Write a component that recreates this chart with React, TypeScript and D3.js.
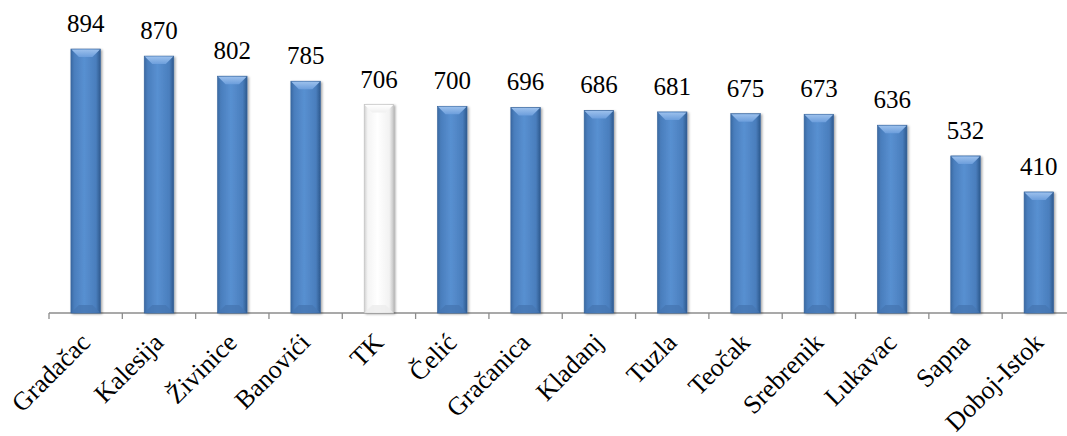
import React from "react";
import * as d3 from "d3";

const categories = ["Gradačac", "Kalesija", "Živinice", "Banovići", "TK", "Čelić", "Gračanica", "Kladanj", "Tuzla", "Teočak", "Srebrenik", "Lukavac", "Sapna", "Doboj-Istok"];
const values = [894, 870, 802, 785, 706, 700, 696, 686, 681, 675, 673, 636, 532, 410];
const highlighted = ["TK"];

const W = 1067;
const H = 436;

export default function App() {
  const x = d3.scaleBand<string>().domain(categories).range([49, 1075.5]).paddingInner(0).paddingOuter(0);
  const y = d3.scaleLinear().domain([0, 1000]).range([313, 17.7]);
  const bw = 29.5;
  const y0 = y(0);
  const ticks = categories.map((c) => x(c)!).concat([x(categories[categories.length - 1])! + x.bandwidth()]);

  return (
    <svg width={W} height={H} style={{ position: "absolute", left: 0, top: 0, background: "#fff" }}>
      <defs>
        <linearGradient id="gBlue" x1="0" x2="1" y1="0" y2="0">
          <stop offset="0" stopColor="#3a6aa3" />
          <stop offset="0.12" stopColor="#4a7ebd" />
          <stop offset="0.45" stopColor="#5890d1" />
          <stop offset="0.85" stopColor="#4a7ebd" />
          <stop offset="1" stopColor="#2e5a8e" />
        </linearGradient>
        <linearGradient id="gWhite" x1="0" x2="1" y1="0" y2="0">
          <stop offset="0" stopColor="#d0d0d0" />
          <stop offset="0.12" stopColor="#f4f4f4" />
          <stop offset="0.45" stopColor="#ffffff" />
          <stop offset="0.85" stopColor="#f2f2f2" />
          <stop offset="1" stopColor="#c4c4c4" />
        </linearGradient>
        <linearGradient id="gBevelBlue" x1="0" x2="0" y1="0" y2="1">
          <stop offset="0" stopColor="#9cc0ec" />
          <stop offset="1" stopColor="#6c9edc" />
        </linearGradient>
        <linearGradient id="gBevelWhite" x1="0" x2="0" y1="0" y2="1">
          <stop offset="0" stopColor="#ffffff" />
          <stop offset="1" stopColor="#f0f0f0" />
        </linearGradient>
        <filter id="shadow" x="-30%" y="-10%" width="160%" height="120%">
          <feDropShadow dx="1.5" dy="1" stdDeviation="1.3" floodColor="#000" floodOpacity="0.35" />
        </filter>
      </defs>

      {/* axis */}
      <g stroke="#8c8c8c" strokeWidth={1.3}>
        <line x1={49} x2={1075.5} y1={y0} y2={y0} />
        {ticks.map((t, i) => (
          <line key={i} x1={t} x2={t} y1={y0} y2={y0 + 6} />
        ))}
      </g>

      {/* bars */}
      {categories.map((c, i) => {
        const cx = x(c)! + x.bandwidth() / 2;
        const x0 = cx - bw / 2;
        const x1 = cx + bw / 2;
        const top = y(values[i]);
        const isW = highlighted.includes(c);
        const bev = 8;
        return (
          <g key={c}>
            <rect x={x0} y={top} width={bw} height={y0 - top} fill={isW ? "url(#gWhite)" : "url(#gBlue)"} filter="url(#shadow)" stroke={isW ? "#bfbfbf" : "#35629a"} strokeWidth={0.6} />
            <polygon
              points={`${x0 + 0.5},${top + 0.5} ${x1 - 0.5},${top + 0.5} ${x1 - bev},${top + bev} ${x0 + bev},${top + bev}`}
              fill={isW ? "url(#gBevelWhite)" : "url(#gBevelBlue)"}
            />
            <polygon
              points={`${x0 + 0.5},${y0 - 0.5} ${x1 - 0.5},${y0 - 0.5} ${x1 - bev},${y0 - bev} ${x0 + bev},${y0 - bev}`}
              fill={isW ? "#ececec" : "#4677b3"}
              opacity={0.8}
            />
            <text x={cx} y={top - 17} textAnchor="middle" fontFamily="Liberation Serif" fontSize={25} fill="#000">
              {values[i]}
            </text>
            <text
              transform={`translate(${cx + 6},${y0 + 31}) rotate(-45)`}
              textAnchor="end"
              fontFamily="Liberation Serif"
              fontSize={26}
              fill="#000"
            >
              {c}
            </text>
          </g>
        );
      })}
    </svg>
  );
}
